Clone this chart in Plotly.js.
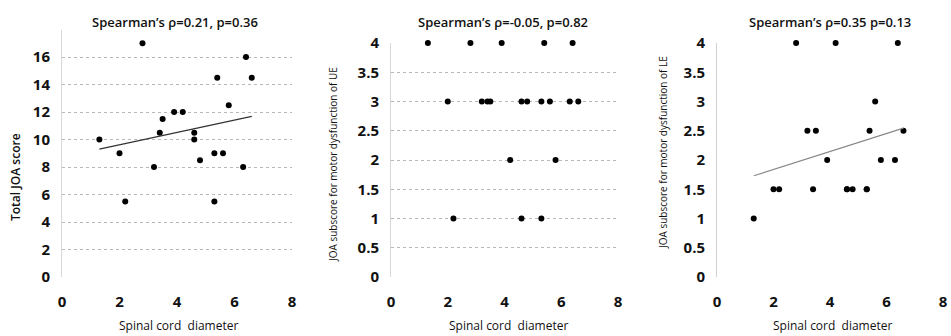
<!DOCTYPE html>
<html><head><meta charset="utf-8">
<script src="https://cdn.plot.ly/plotly-3.0.1.min.js"></script>
<style>html,body{margin:0;padding:0;background:#fff}#c{width:951px;height:336px}</style>
</head><body><div id="c"></div>
<script>
// Spinal cord diameter (shared by all panels)
const diameter = [1.3,2.0,2.2,2.8,3.2,3.4,3.5,3.9,4.2,4.6,4.6,4.8,5.3,5.3,5.4,5.6,5.8,6.3,6.4,6.6];
// Total JOA score
const totalJOA = [10,9,5.5,17,8,10.5,11.5,12,12,10.5,10,8.5,9,5.5,14.5,9,12.5,8,16,14.5];
// JOA subscore motor dysfunction UE
const ueScore = [4,3,1,4,3,3,3,4,2,3,1,3,3,1,4,3,2,3,4,3];
// JOA subscore motor dysfunction LE
const leScore = [1,1.5,1.5,4,2.5,1.5,2.5,2,4,1.5,1.5,1.5,1.5,1.5,2.5,3,2,2,4,2.5];

const titles = ["Spearman\u2019s \u03c1=0.21, p=0.36","Spearman\u2019s \u03c1=-0.05, p=0.82","Spearman\u2019s \u03c1=0.35 p=0.13"];
const yTitles = ["Total JOA score","JOA subscore for motor dysfunction of UE","JOA subscore for motor dysfunction of LE"];
const xTitle = "Spinal cord  diameter";
const xTicks = [0,2,4,6,8];
const yTicks1 = [0,2,4,6,8,10,12,14,16];
const yTicks23 = [0,0.5,1,1.5,2,2.5,3,3.5,4];

function fit(x,y){
  const n=x.length; let mx=0,my=0; for(let i=0;i<n;i++){mx+=x[i];my+=y[i];} mx/=n; my/=n;
  let sxy=0,sxx=0; for(let i=0;i<n;i++){sxy+=(x[i]-mx)*(y[i]-my); sxx+=(x[i]-mx)**2;}
  const b=sxy/sxx, a=my-b*mx;
  const x0=Math.min(...x), x1=Math.max(...x);
  return {x:[x0,x1], y:[a+b*x0, a+b*x1]};
}

const FONT = "Open Sans, Noto Sans, sans-serif";
const mk = {color:'#000', size:6};
const f1 = fit(diameter,totalJOA), f3 = fit(diameter,leScore);
const data = [
  {x:diameter,y:totalJOA,mode:'markers',type:'scatter',marker:mk,xaxis:'x',yaxis:'y',showlegend:false,cliponaxis:false},
  {x:f1.x,y:f1.y,mode:'lines',type:'scatter',line:{color:'#333',width:1.2},xaxis:'x',yaxis:'y',showlegend:false},
  {x:diameter,y:ueScore,mode:'markers',type:'scatter',marker:mk,xaxis:'x2',yaxis:'y2',showlegend:false,cliponaxis:false},
  {x:diameter,y:leScore,mode:'markers',type:'scatter',marker:mk,xaxis:'x3',yaxis:'y3',showlegend:false,cliponaxis:false},
  {x:f3.x,y:f3.y,mode:'lines',type:'scatter',line:{color:'#888',width:1.2},xaxis:'x3',yaxis:'y3',showlegend:false}
];

const W=951,H=336;
const px=(v)=>v/W, py=(v)=>(H-v)/H;
const tickFont={family:FONT,size:15,color:'#111',weight:700};
function xax(d,anchor){return {domain:d,range:[0,8],tickvals:xTicks,ticktext:xTicks.map(String),showgrid:false,zeroline:false,
  showline:false,ticks:'outside',ticklen:11,tickcolor:'rgba(0,0,0,0)',tickfont:tickFont,anchor:anchor,fixedrange:true};}
function yax(d,range,tv,grid,anchor){return {domain:d,range:range,tickvals:tv,ticktext:tv.map(String),
  showgrid:grid,gridcolor:'#b8b8b8',griddash:'dot',gridwidth:1,zeroline:false,showline:true,linecolor:'#d8d8d8',linewidth:1,
  ticks:'outside',ticklen:8,tickcolor:'rgba(0,0,0,0)',tickfont:tickFont,anchor:anchor,fixedrange:true};}

const layout = {
  width:W,height:H,margin:{l:0,r:0,t:0,b:0},paper_bgcolor:'#fff',plot_bgcolor:'#fff',
  font:{family:FONT},
  xaxis: xax([px(62),px(292)],'y'),
  yaxis: yax([py(277),py(29.5)],[0,18],yTicks1,true,'x'),
  xaxis2: xax([px(391),px(618)],'y2'),
  yaxis2: yax([py(277),py(43)],[0,4],yTicks23,true,'x2'),
  xaxis3: xax([px(717),px(943)],'y3'),
  yaxis3: yax([py(277),py(43)],[0,4],yTicks23,false,'x3'),
  annotations: []
};
layout.yaxis3.linecolor='#d0d0d0';
layout.yaxis3.griddash='dot';
const tc=[175,503,830], xc=[178,508,832], yx=[15,333,663], yc=[177,165,153];
const ytSize=[12,10,10];
for(let i=0;i<3;i++){
  layout.annotations.push({text:titles[i],xref:'paper',yref:'paper',x:px(tc[i]),y:py(22),xanchor:'center',yanchor:'middle',showarrow:false,
    font:{family:FONT,size:13,color:'#111',weight:600}});
  layout.annotations.push({text:xTitle,xref:'paper',yref:'paper',x:px(xc[i]),y:py(325),xanchor:'center',yanchor:'middle',showarrow:false,
    font:{family:FONT,size:12,color:'#111'}});
  layout.annotations.push({text:yTitles[i],xref:'paper',yref:'paper',x:px(yx[i]),y:py(yc[i]),xanchor:'center',yanchor:'middle',showarrow:false,textangle:-90,
    font:{family:FONT,size:ytSize[i],color:'#111',weight:i===0?600:400}});
}
Plotly.newPlot('c',data,layout,{displayModeBar:false,staticPlot:true});
</script></body></html>
